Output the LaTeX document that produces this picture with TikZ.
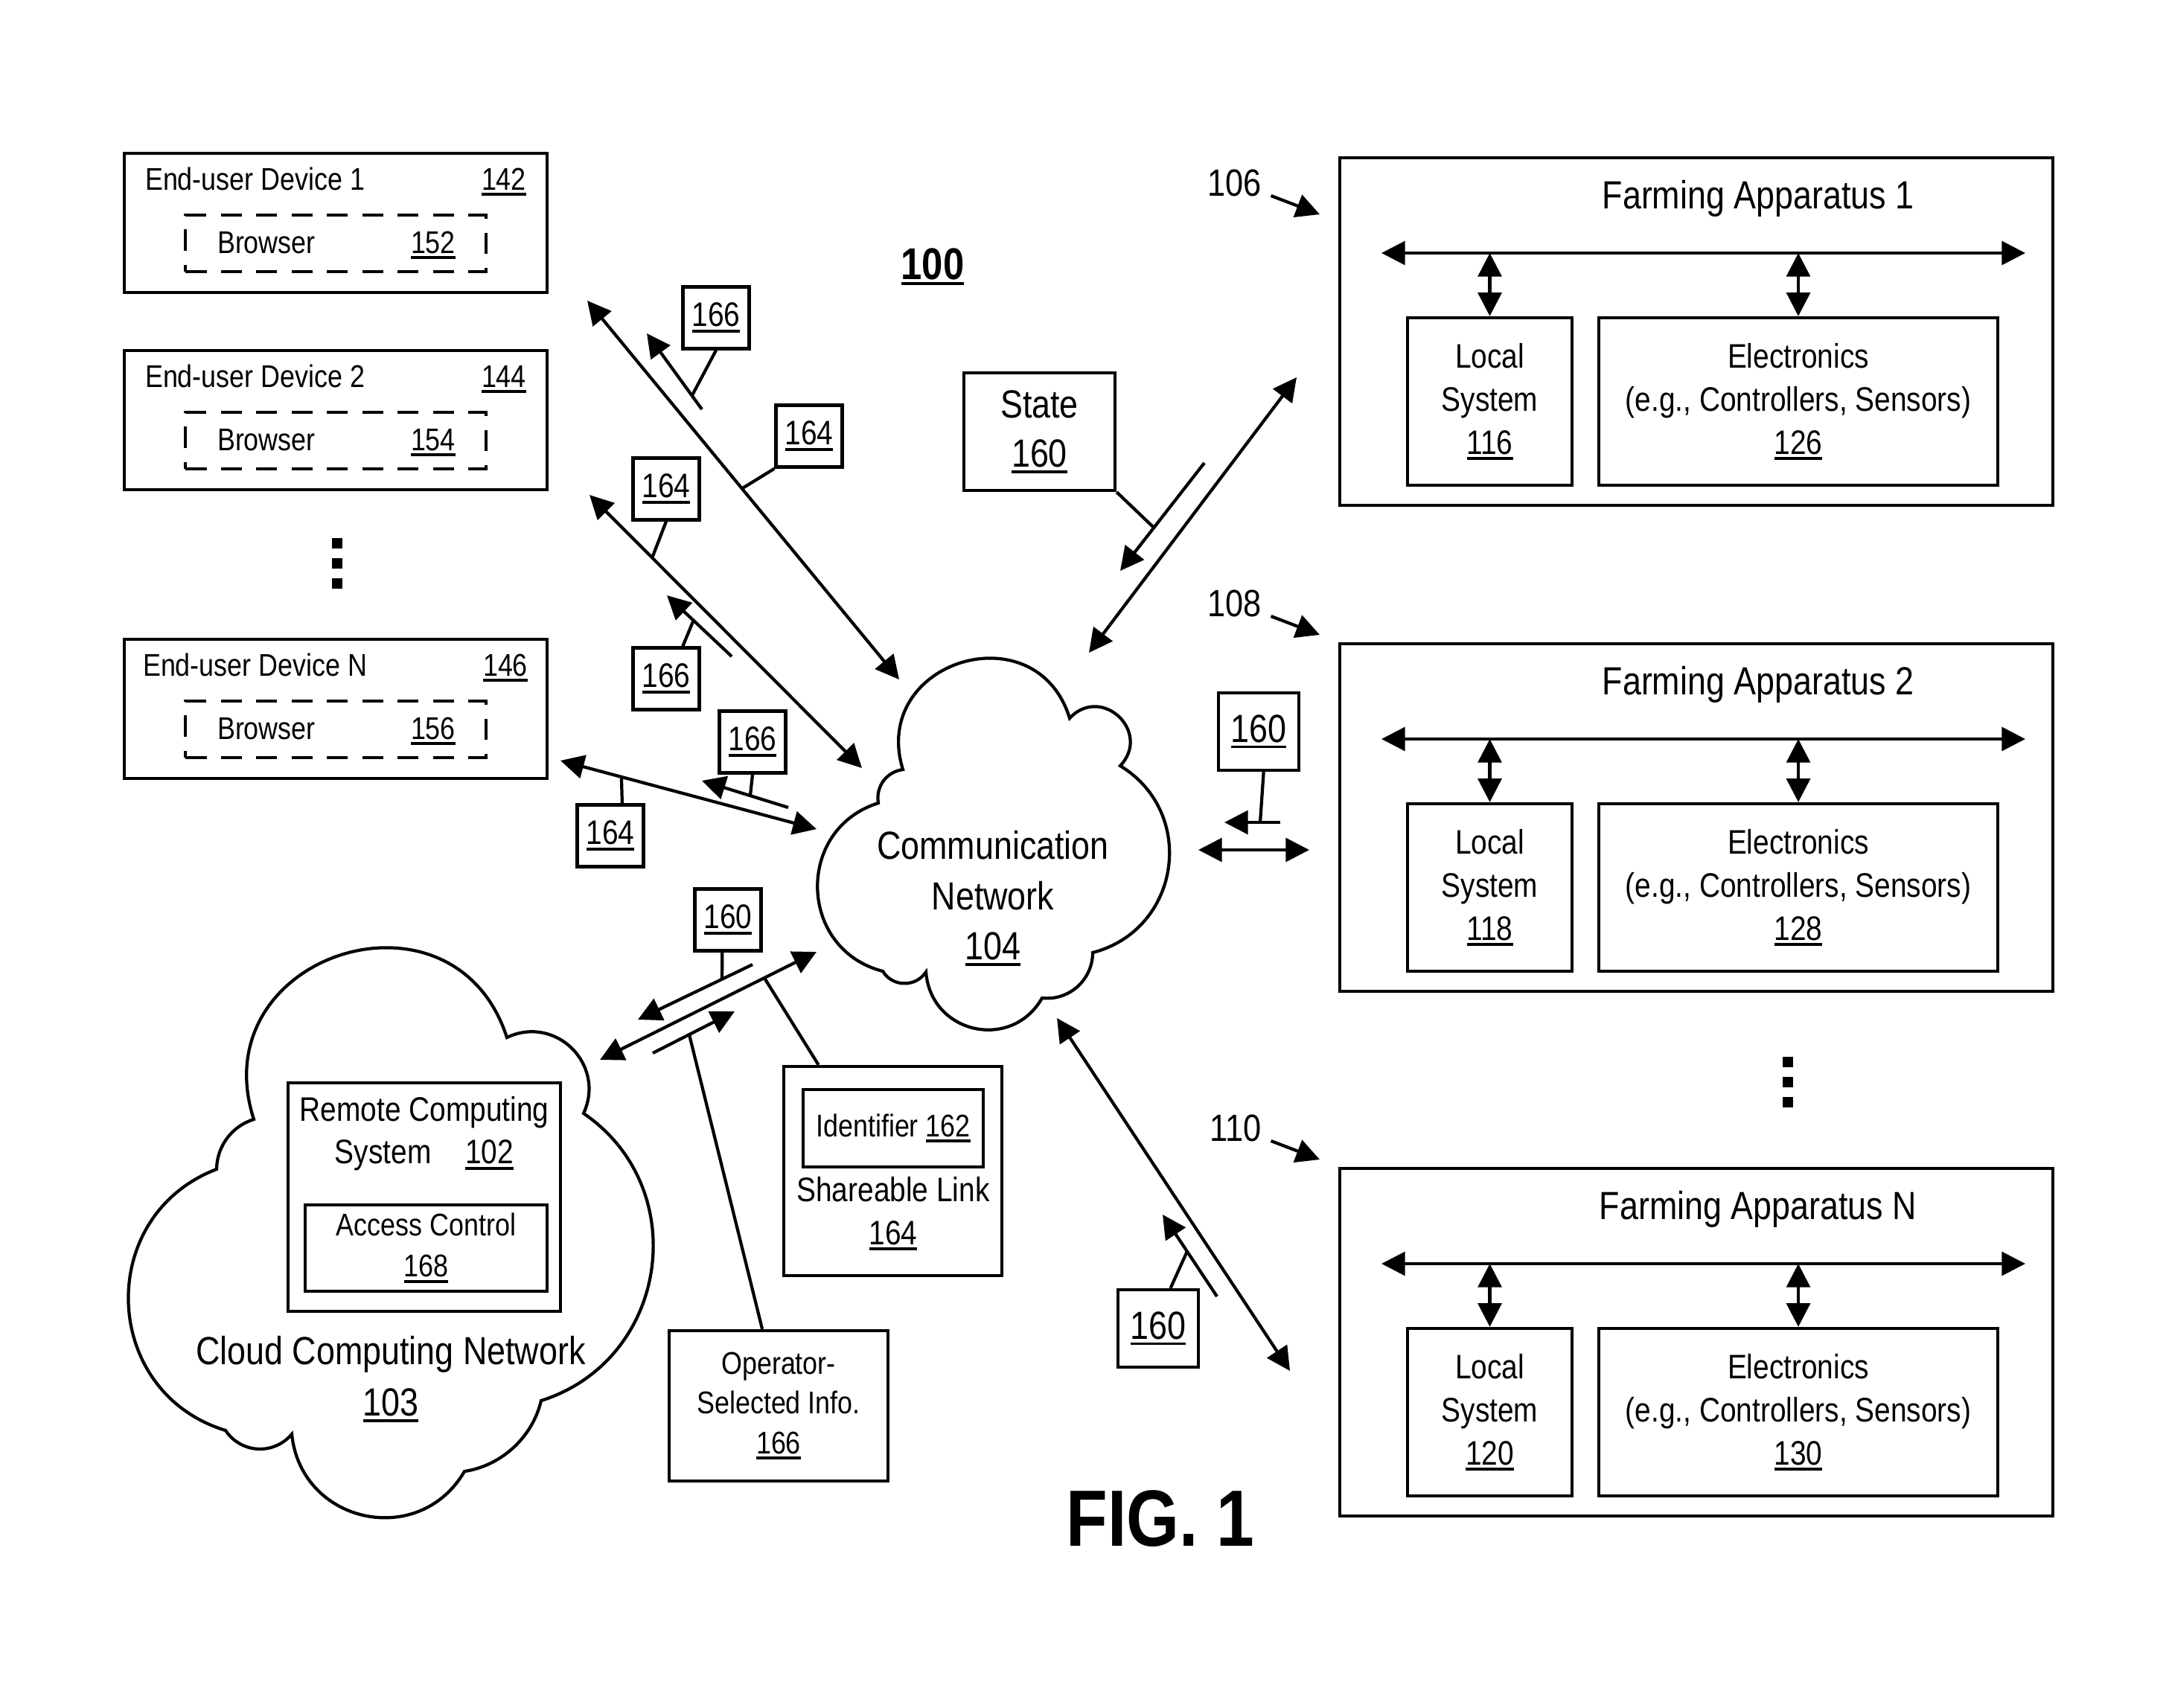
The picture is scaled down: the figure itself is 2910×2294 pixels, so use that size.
\documentclass[tikz,border=0pt]{standalone}
\usepackage{fontspec}
\setmainfont[FakeStretch=0.85]{Liberation Sans}
\usetikzlibrary{arrows.meta,calc}

\newcommand{\fsz}[2]{\fontsize{#1}{#2}\selectfont}
\newsavebox{\numbox}
\newcommand{\refno}[1]{\sbox{\numbox}{#1}\rlap{\usebox{\numbox}}\rule[-2.3pt]{\wd\numbox}{1.1pt}}
% one bulge of a cloud outline, from #1 to #2
\newcommand{\bump}[4]{.. controls ($(#1)!#3!#4:(#2)$) and ($(#2)!#3!-#4:(#1)$) .. (#2)}

\begin{document}
\begin{tikzpicture}[x=0.01cm, y=-0.01cm, line width=1.2pt,
  >={Triangle[length=9pt,width=9pt]},
  box/.style={draw, inner sep=0pt, align=center},
  devbox/.style={box, minimum width=5.68cm, minimum height=1.87cm},
  dashbox/.style={draw, dash pattern=on 8pt off 5.5pt, inner sep=0pt,
    minimum width=4.03cm, minimum height=0.76cm},
  tag/.style={box, minimum width=0.89cm, minimum height=0.83cm, font=\fsz{13pt}{16pt}},
  bigtag/.style={box, minimum width=1.08cm, minimum height=1.04cm, font=\fsz{15pt}{18pt}},
  lbl/.style={font=\fsz{12pt}{15pt}, inner sep=0pt}]

\path[fill=white, use as bounding box] (0,0) rectangle (2910,2294);

% end-user devices
\foreach \i/\dy/\dn/\bn/\lx/\rx in {1/206/142/152/193/709, 2/471/144/154/193/709, N/859/146/156/190/711} {
  \node[devbox] (dev\i) at (451,\dy+93.5) {};
  \node[lbl, anchor=base west] (dev\i-name) at (\lx,\dy+49) {End-user Device \i};
  \node[lbl, anchor=base east] (dev\i-num) at (\rx,\dy+49) {\refno{\dn}};
  \node[dashbox] (brw\i) at (451,\dy+121) {};
  \node[lbl, anchor=base west] (brw\i-name) at (290,\dy+134) {Browser};
  \node[lbl, anchor=base east] (brw\i-num) at (614,\dy+134) {\refno{\bn}};
}
\foreach \dy in {730,757,784} \fill (446,\dy-7) rectangle ++(14,14);

% farming apparatus
\foreach \i/\fy/\ttl/\ls/\el/\rf/\ry in {1/212/1/116/126/106/263, 2/865/2/118/128/108/828, 3/1570/N/120/130/110/1533} {
  \node[box, minimum width=9.58cm, minimum height=4.67cm] (farm\i) at (2279,\fy+233.5) {};
  \node[font=\fsz{15pt}{18pt}, anchor=base, inner sep=0pt] (farm\i-title) at (2362,\fy+68) {Farming Apparatus \ttl};
  \coordinate (bus\i-w) at (1856,\fy+128);
  \coordinate (bus\i-e) at (2721,\fy+128);
  \draw[<->] (bus\i-w) -- (bus\i-e);
  \node[box, minimum width=2.21cm, minimum height=2.25cm, font=\fsz{13pt}{16.5pt}] (loc\i) at (2001.5,\fy+327.5) {Local\\System\\\refno{\ls}};
  \node[box, minimum width=5.36cm, minimum height=2.25cm, font=\fsz{13pt}{16.5pt}] (elec\i) at (2416,\fy+327.5) {Electronics\\(e.g., Controllers, Sensors)\\\refno{\el}};
  \draw[<->] (loc\i.north) -- (loc\i.north |- bus\i-w);
  \draw[<->] (elec\i.north) -- (elec\i.north |- bus\i-w);
  \node[font=\fsz{14.5pt}{18pt}, anchor=base east, inner sep=0pt] (ref\i) at (1697,\ry) {\rf};
  \coordinate (ref\i-tip) at (1773,\ry+25);
  \draw[->] ([xshift=3pt]ref\i.base east) -- (ref\i-tip);
}
\foreach \dy in {1427,1454,1481} \fill (2395,\dy-7) rectangle ++(14,14);

% communication network
\coordinate (c1) at (1213,1034); \coordinate (c2) at (1437,965);
\coordinate (c3) at (1505,1029); \coordinate (c4) at (1468,1280);
\coordinate (c5) at (1400,1341); \coordinate (c6) at (1244,1306);
\coordinate (c7) at (1186,1305); \coordinate (c8) at (1180,1079);
\draw (c1) \bump{c1}{c2}{0.65}{90} \bump{c2}{c3}{0.67}{90} \bump{c3}{c4}{0.48}{67}
  \bump{c4}{c5}{0.40}{48} \bump{c5}{c6}{0.52}{73} \bump{c6}{c7}{0.43}{58}
  \bump{c7}{c8}{0.52}{74} \bump{c8}{c1}{0.40}{46} -- cycle;
\node[font=\fsz{15pt}{19.3pt}, align=center, inner sep=0pt] (comm) at (1334,1207) {Communication\\Network\\\refno{104}};

% cloud computing network
\coordinate (k1) at (341,1504); \coordinate (k2) at (681,1394);
\coordinate (k3) at (784,1496); \coordinate (k4) at (727,1882);
\coordinate (k5) at (624,1977); \coordinate (k6) at (392,1927);
\coordinate (k7) at (303,1922); \coordinate (k8) at (291,1571);
\draw (k1) \bump{k1}{k2}{0.65}{90} \bump{k2}{k3}{0.50}{70} \bump{k3}{k4}{0.46}{64}
  \bump{k4}{k5}{0.36}{34} \bump{k5}{k6}{0.51}{72} \bump{k6}{k7}{0.42}{53}
  \bump{k7}{k8}{0.50}{71} \bump{k8}{k1}{0.37}{36} -- cycle;
\node[box, minimum width=3.66cm, minimum height=3.07cm] (rcs) at (570,1608.5) {};
\node[font=\fsz{13pt}{16.2pt}, align=center, inner sep=0pt] (rcs-text) at (570,1523.5) {Remote Computing\\System\hspace{13pt}\refno{102}};
\node[box, minimum width=3.25cm, minimum height=1.16cm, font=\fsz{12pt}{15.6pt}] (acc) at (572.5,1677) {Access Control\\\refno{168}};
\node[font=\fsz{15pt}{19.6pt}, align=center, inner sep=0pt] (ccn) at (525,1853) {Cloud Computing Network\\\refno{103}};

% state, link, operator info
\node[box, minimum width=2.03cm, minimum height=1.58cm, font=\fsz{15pt}{18.8pt}] (state) at (1396.5,580) {State\\\refno{160}};
\node[box, minimum width=2.93cm, minimum height=2.81cm] (link) at (1199.5,1573.5) {};
\node[box, minimum width=2.42cm, minimum height=1.04cm, font=\fsz{12pt}{15pt}] (ident) at (1200,1516) {Identifier \refno{162}};
\node[font=\fsz{13pt}{16.5pt}, align=center, inner sep=0pt] (link-text) at (1200,1630.5) {Shareable Link\\\refno{164}};
\node[box, minimum width=2.94cm, minimum height=2.02cm, font=\fsz{12pt}{15.2pt}] (opinfo) at (1046,1889) {Operator-\\Selected Info.\\\refno{166}};

% reference tags
\node[tag] (t166a) at (962,427) {\refno{166}};
\node[tag] (t164a) at (1087,586) {\refno{164}};
\node[tag] (t164b) at (895,657) {\refno{164}};
\node[tag] (t166b) at (895,912) {\refno{166}};
\node[tag] (t166c) at (1011,997) {\refno{166}};
\node[tag] (t164c) at (820,1123) {\refno{164}};
\node[tag] (t160a) at (978,1236) {\refno{160}};
\node[bigtag] (t160b) at (1691,983) {\refno{160}};
\node[bigtag] (t160c) at (1556,1785) {\refno{160}};

% links between devices and network
\coordinate (l1a) at (789,404);   \coordinate (l1b) at (1208,913);
\coordinate (l2a) at (792,665);   \coordinate (l2b) at (1158,1032);
\coordinate (l3a) at (753,1022);  \coordinate (l3b) at (1097,1114);
\coordinate (l4a) at (806,1424);  \coordinate (l4b) at (1097,1279);
\coordinate (l5a) at (1463,877);  \coordinate (l5b) at (1742,507);
\coordinate (l6a) at (1610,1142); \coordinate (l6b) at (1759,1142);
\coordinate (l7a) at (1420,1368); \coordinate (l7b) at (1733,1842);
\draw[<->] (l1a) -- coordinate[pos=0.496] (l1tap) (l1b);
\draw[<->] (l2a) -- coordinate[pos=0.23] (l2tap) (l2b);
\draw[<->] (l3a) -- coordinate[pos=0.238] (l3tap) (l3b);
\draw[<->] (l4a) -- coordinate[pos=0.759] (l4tap) (l4b);
\draw[<->] (l5a) -- (l5b);
\draw[<->] (l6a) -- (l6b);
\draw[<->] (l7a) -- (l7b);

% data flows
\coordinate (s1a) at (943,550);   \coordinate (s1b) at (869,448);
\coordinate (s2a) at (983,882);   \coordinate (s2b) at (896,800);
\coordinate (s3a) at (1059,1085); \coordinate (s3b) at (943,1049);
\coordinate (s4a) at (1011,1296); \coordinate (s4b) at (857,1370);
\coordinate (s5a) at (877,1415);  \coordinate (s5b) at (987,1359);
\coordinate (s6a) at (1618,622);  \coordinate (s6b) at (1505,767);
\coordinate (s7a) at (1720,1105); \coordinate (s7b) at (1645,1105);
\coordinate (s8a) at (1635,1742); \coordinate (s8b) at (1562,1632);
\draw[->] (s1a) -- coordinate[pos=0.18] (s1tap) (s1b);
\draw[->] (s2a) -- coordinate[pos=0.59] (s2tap) (s2b);
\draw[->] (s3a) -- coordinate[pos=0.44] (s3tap) (s3b);
\draw[->] (s4a) -- coordinate[pos=0.266] (s4tap) (s4b);
\draw[->] (s5a) -- coordinate[pos=0.445] (s5tap) (s5b);
\draw[->] (s6a) -- coordinate[pos=0.60] (s6tap) (s6b);
\draw[->] (s7a) -- coordinate[pos=0.36] (s7tap) (s7b);
\draw[->] (s8a) -- coordinate[pos=0.55] (s8tap) (s8b);

% leaders
\draw (t166a.south) -- (s1tap);
\draw (t164a.south west) -- (l1tap);
\draw (t164b.south) -- (l2tap);
\draw (t166b.63) -- (s2tap);
\draw (t166c.south) -- (s3tap);
\draw (t164c.70) -- (l3tap);
\draw (t160a.260) -- (s4tap);
\draw (link.125) -- (l4tap);
\draw (opinfo.102) -- (s5tap);
\draw (state.south east) -- (s6tap);
\draw (t160b.277) -- (s7tap);
\draw (t160c.73) -- (s8tap);

\node[font=\bfseries\fsz{17pt}{20pt}, anchor=base, inner sep=0pt] (fignum) at (1253,375) {\refno{100}};
\node[font=\bfseries\fsz{30.5pt}{36pt}, anchor=base, inner sep=0pt] (figlabel) at (1559,2077) {FIG. 1};
\end{tikzpicture}
\end{document}
